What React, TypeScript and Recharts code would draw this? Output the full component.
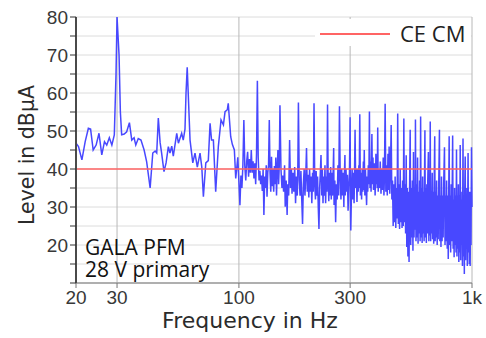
import React from 'react';
import { LineChart, Line, XAxis, YAxis, CartesianGrid, ReferenceLine, Label } from 'recharts';

const lowBand: [number, number][] = [
  [20, 46.8], [20.5, 45.9], [21.2, 42.4], [21.9, 47.2], [22.6, 50.7], [23.1, 50.5], [23.7, 45.0],
  [24.4, 46.3], [25.1, 49.4], [25.8, 43.7], [26.5, 47.2], [27.1, 46.3], [27.8, 48.2], [28.5, 46.3],
  [29.2, 49.0], [29.7, 65.0], [30.0, 80.0], [30.6, 70.0], [31.0, 55.0], [31.4, 49.0], [32.2, 49.2],
  [33.0, 49.8], [33.9, 52.2], [34.7, 47.6], [35.5, 48.2], [36.1, 46.3], [37.0, 48.0], [38.0, 47.6],
  [39.2, 45.0], [40.2, 41.9], [41.6, 35.0], [42.7, 44.2], [43.7, 44.7], [44.4, 44.2], [45.1, 53.4],
  [45.9, 47.0], [46.6, 44.2], [47.7, 39.3], [48.7, 41.6], [49.8, 45.9], [50.6, 44.2], [51.5, 46.0],
  [52.3, 43.4], [54.1, 49.4], [55.0, 46.8], [56.8, 49.4], [57.7, 47.6], [58.7, 50.5], [59.3, 60.0],
  [60.0, 66.8], [60.6, 60.0], [61.7, 47.6], [63.4, 41.6], [64.8, 44.2], [66.3, 40.5], [68.1, 44.2],
  [69.3, 40.5], [70.4, 32.7], [72.1, 41.6], [73.9, 42.2], [75.2, 52.0], [76.3, 47.6], [77.7, 47.6],
  [79.5, 34.0], [81.6, 45.9], [83.8, 52.9], [85.8, 51.6], [87.2, 55.1], [89.2, 55.6], [90.0, 57.3],
  [92.2, 48.5], [93.7, 46.5], [95.6, 45.0], [96.9, 37.5], [98.9, 43.1],
];

const midBand: [number, number][] = [
  [100, 36.5], [101, 30.5], [102, 38.3], [103, 35], [104, 41], [105, 52.9], [106, 40.8], [107, 37],
  [108, 42], [109, 44.5], [110, 38], [111, 42.6], [112, 39], [113, 45], [114, 39], [115, 42],
  [116, 37.5], [117, 41.5], [118, 36], [119, 44], [120, 63.2], [121, 43], [122, 37], [123, 39.5],
  [124, 36], [125, 38.3], [126, 34.2], [127, 40], [128, 27.9], [129, 38], [130, 35], [131, 41],
  [132, 32.7], [133, 39], [134, 41], [135, 52.9], [136, 39], [137, 34], [138, 43.2], [139, 35.5],
  [140, 40], [141, 34], [142, 40.8], [143, 36], [144, 43], [145, 33], [146, 40], [147, 45],
  [148, 36], [149, 41], [150, 56.8],
  [151.5, 40], [153, 35], [154, 38.3], [155.5, 34], [157, 41], [158, 30.1], [159.5, 37], [161, 27.9],
  [162, 36], [163.5, 33], [165, 47.6], [166.5, 35], [168, 40], [169, 33.5], [170.5, 39], [172, 34],
  [173.5, 40.5], [175, 31], [176.5, 38], [178, 33], [179, 41], [180, 57.5], [181.5, 37], [183, 33],
  [184.5, 39.5], [186, 32], [187.5, 25.5], [189, 36], [190.5, 40], [192, 33], [193.5, 38], [195, 45.5],
  [196.5, 34], [198, 38.5], [199.5, 32.5], [201, 40], [202.5, 34], [204, 38], [205.5, 31], [207, 39],
  [208.5, 34], [210, 57.3], [211.5, 36], [213, 32], [214.5, 39.5], [216, 33], [217.5, 38], [219, 30],
  [220.5, 24.2], [222, 35], [223.5, 39], [225, 43.7], [226.5, 33], [228, 40], [229.5, 31], [231, 38],
  [232.5, 33], [234, 41], [235.5, 31], [237, 38], [238.5, 34], [240, 57], [241.5, 37], [243, 31.5],
  [244.5, 39], [246, 33], [247.5, 40.5], [249, 32],
  [250, 39], [252, 33], [254, 40.5], [255, 45.5], [256, 30.5], [258, 37], [260, 26], [262, 36],
  [264, 32], [266, 41], [268, 33], [270, 56.5], [272, 38], [274, 32], [276, 40], [278, 33],
  [280, 39], [282, 30], [283, 37], [285, 43.7], [286, 33], [288, 40], [290, 34], [292, 38.5],
  [294, 29], [296, 35], [298, 39], [300, 53.6], [301, 31], [302, 23.8], [304, 34], [306, 40],
  [308, 32], [310, 39], [312, 31], [313, 37], [315, 50.3], [317, 35], [319, 40], [321, 31.3],
  [323, 40], [325, 34], [327, 41], [328, 35], [330, 54.4], [332, 33], [334, 39], [336, 32],
  [338, 40], [340, 34], [342, 42], [343, 34.5], [345, 45], [347, 33], [349, 40], [351, 35],
  [353, 30.5], [355, 38], [357, 34], [359, 41], [361, 36], [363, 55.1], [365, 35], [367, 42],
  [369, 34], [370, 40], [372, 49.2], [374, 36], [376, 43], [378, 34.5], [380, 35.5], [382, 41.5],
  [384, 33], [386, 39], [387, 44], [389, 36], [391, 41], [392, 35], [394, 50.9], [396, 34],
  [398, 40],
];

const highBand: [number, number][] = [
  [401, 35], [404, 42], [407, 33.5], [410, 40], [413, 34.5], [416, 43], [419, 33], [421, 38],
  [424, 57.2], [427, 34], [430, 41], [433, 33], [436, 44], [439, 34.5], [441, 45.9], [444, 33.5],
  [447, 40], [450, 51.6], [453, 32], [456, 37], [459, 25], [462, 36], [465, 26], [468, 38],
  [471, 24.5], [474, 35], [477, 27], [480, 54.6], [483, 25.5], [486, 36], [489, 24.2], [492, 40],
  [495, 26], [498, 35], [501, 24.5], [504, 37], [507, 25], [510, 53.3], [513, 26], [516, 36],
  [519, 23], [522, 43.6], [525, 19.5], [528, 35], [531, 17], [534, 34], [537, 15.5], [540, 36],
  [543, 50.3], [546, 20], [549, 35], [552, 22], [555, 37], [558, 18.5], [561, 44.5], [564, 22],
  [567, 35], [570, 24], [572, 53], [575, 21], [578, 36], [581, 22], [584, 43], [587, 20.3],
  [590, 34], [593, 23], [596, 37], [599, 21], [602, 53.8], [605, 22], [608, 35], [611, 20.5],
  [614, 38], [617, 23], [620, 34], [623, 21], [626, 40], [628, 50.2], [631, 22], [634, 35],
  [637, 20.5], [640, 36], [643, 23], [646, 37], [650, 44.5], [653, 21], [656, 35], [659, 22.5],
  [662, 52.5], [665, 21], [668, 34], [671, 23], [675, 39], [678, 21.5], [682, 34], [685, 20.3],
  [688, 36], [692, 48.6], [695, 21], [698, 34], [702, 22], [705, 37], [709, 20], [712, 33],
  [716, 21.5], [720, 36], [725, 50.3], [728, 21], [732, 33], [736, 19.5], [740, 38], [744, 21],
  [748, 33], [752, 22], [756, 36], [762, 45.7], [766, 20], [770, 33], [774, 21], [778, 37],
  [783, 19], [787, 33], [791, 16.3], [795, 35], [798, 48.6], [802, 20], [806, 33], [810, 18],
  [814, 36], [818, 21], [822, 33], [826, 48.8], [830, 19], [834, 32], [838, 16.8], [842, 35],
  [846, 20], [850, 33], [854, 18], [858, 45.1], [862, 17], [866, 33], [870, 19], [874, 36],
  [878, 15.5], [882, 33], [886, 18], [890, 46.3], [894, 16], [898, 34], [902, 20], [906, 32],
  [910, 14.5], [915, 48], [919, 17], [923, 33], [927, 12.4], [931, 34], [935, 43.3], [939, 16],
  [943, 32], [947, 19], [951, 35], [955, 14.5], [959, 32], [962, 44.2], [966, 18], [970, 33],
  [974, 15], [978, 34], [982, 14.5], [986, 31], [990, 20], [995, 45.7], [1000, 30],
];

const xTicks = [20, 30, 100, 300, 1000];
const yTicks = [10, 15, 20, 25, 30, 35, 40, 45, 50, 55, 60, 65, 70, 75, 80];
const ceCmLimit = 40;
const legendLabel = 'CE CM';
const noteLines = ['GALA PFM', '28 V primary'];

const data = [...lowBand, ...midBand, ...highBand].map(([f, v]) => ({ f, v }));

const tickStyle = { fontSize: 19, fill: '#383838', fontFamily: '"Liberation Sans", Arial, sans-serif' };
const titleFont = '"DejaVu Sans", sans-serif';

const App: React.FC = () => {
  return (
    <div style={{ position: 'absolute', left: 0, top: 0, width: 486, height: 338, background: '#fff' }}>
      <LineChart width={486} height={338} data={data} margin={{ top: 17, right: 14, bottom: 0, left: 0 }}>
        <CartesianGrid vertical={false} stroke="#dcdcdc" />
        <CartesianGrid horizontal={false} stroke="#b8b8b8" />
        <XAxis
          dataKey="f"
          type="number"
          scale="log"
          domain={[20, 1000]}
          ticks={xTicks}
          interval={0}
          height={55}
          tickFormatter={(v: number) => (v === 1000 ? '1k' : String(v))}
          tick={tickStyle}
          tickSize={5}
          tickMargin={3}
          axisLine={{ stroke: '#9a9a9a', strokeWidth: 1.5 }}
          tickLine={{ stroke: '#777' }}
        >
          <Label
            content={() => (
              <text x={250} y={328} textAnchor="middle" fontSize={22} fill="#2b2b2b" fontFamily={titleFont}>
                Frequency in Hz
              </text>
            )}
          />
        </XAxis>
        <YAxis
          type="number"
          domain={[10, 80]}
          ticks={yTicks}
          interval={0}
          width={76}
          tickFormatter={(v: number) => (v % 10 === 0 && v > 10 ? String(v) : '')}
          tick={tickStyle}
          tickSize={6}
          tickMargin={2}
          axisLine={{ stroke: '#4a4a4a', strokeWidth: 2 }}
          tickLine={{ stroke: '#333' }}
        >
          <Label
            content={() => (
              <text
                x={34}
                y={155}
                transform="rotate(-90 34 155)"
                textAnchor="middle"
                fontSize={20.5}
                fill="#2b2b2b"
                fontFamily={titleFont}
              >
                Level in dBµA
              </text>
            )}
          />
        </YAxis>
        <Line
          dataKey="v"
          type="linear"
          stroke="#4848ff"
          strokeWidth={1.5}
          dot={false}
          isAnimationActive={false}
        />
        <ReferenceLine y={ceCmLimit} stroke="#ff6464" strokeWidth={1.5} />
      </LineChart>
      <svg
        width={486}
        height={338}
        style={{ position: 'absolute', left: 0, top: 0, pointerEvents: 'none' }}
      >
        <rect x={315} y={19} width={156} height={27} fill="#fff" />
        <line x1={320} x2={390} y1={34} y2={34} stroke="#ff6464" strokeWidth={2} />
        <text x={400} y={42} fontSize={22} fill="#222" fontFamily='"Open Sans", sans-serif'>
          {legendLabel}
        </text>
        {noteLines.map((t, i) => (
          <text key={t} x={85} y={255 + i * 22} fontSize={21} fill="#111" fontFamily='"Open Sans", sans-serif'>
            {t}
          </text>
        ))}
      </svg>
    </div>
  );
};

export default App;
